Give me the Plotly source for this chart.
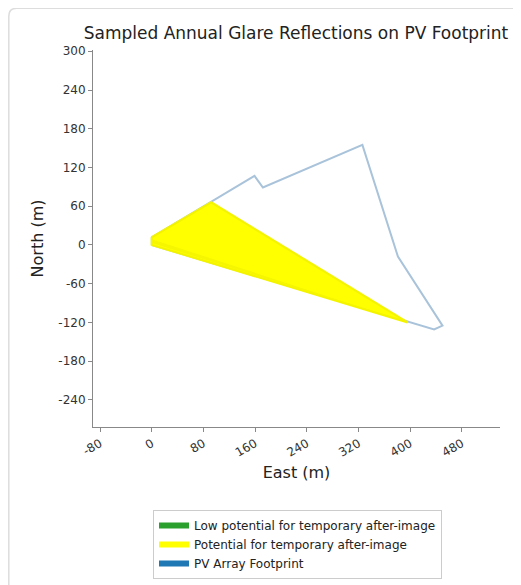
import plotly.graph_objects as go

# PV array footprint outline (East, North in m)
footprint_east = [0, 0, 159, 172, 326, 381, 450, 437, 0]
footprint_north = [0, 12, 107, 89, 155, -18, -125, -131, 0]

# Glare region ("Potential for temporary after-image")
glare_east = [0, 92, 396, 0, 0]
glare_north = [12, 66, -120, 0, 12]
glare_band_east = [0, 396, 0, 0]
glare_band_north = [9, -120, 3, 9]

x_ticks = [-80, 0, 80, 160, 240, 320, 400, 480]
x_labels = ["-80", "0", "80", "160", "240", "320", "400", "480"]
y_ticks = [-240, -180, -120, -60, 0, 60, 120, 180, 240, 300]
y_labels = ["-240", "-180", "-120", "-60", "0", "60", "120", "180", "240", "300"]

legend_names = ["Low potential for temporary after-image",
                "Potential for temporary after-image",
                "PV Array Footprint"]
legend_colors = ["#2ca02c", "#ffff00", "#1f77b4"]

fig = go.Figure()

fig.add_trace(go.Scatter(x=footprint_east, y=footprint_north, mode="lines",
                         line=dict(color="#a9c3da", width=2), showlegend=False,
                         hoverinfo="skip"))
fig.add_trace(go.Scatter(x=glare_east, y=glare_north, fill="toself",
                         mode="lines", line=dict(color="#f4f400", width=2.2),
                         fillcolor="#ffff00", showlegend=False,
                         hoverinfo="skip"))
fig.add_trace(go.Scatter(x=glare_band_east, y=glare_band_north, fill="toself",
                         mode="none", fillcolor="#f6f600", showlegend=False,
                         hoverinfo="skip"))

for name, col in zip(legend_names, legend_colors):
    fig.add_trace(go.Scatter(x=[None], y=[None], fill="toself", mode="none",
                             fillcolor=col, name=name))

# page has an 8px body margin: work in reference pixels minus 8
OFF = 8
W, H = 521 - OFF, 585 - OFF
L, R, T, B = 93 - OFF, 500 - OFF, 50 - OFF, 427 - OFF
pw, ph = R - L, B - T
def px(xp):
    return (xp - OFF - L) / pw
def py(yp):
    return (B - (yp - OFF)) / ph

rx, ry = 8 / pw, 8 / ph
x0, y0 = px(8.8), py(8.3)
x1, y1 = px(560), py(620)
frame = (f"M{x0},{y1} L{x0},{y0 - ry} Q{x0},{y0} {x0 + rx},{y0} L{x1},{y0}")

axis_font = dict(family="DejaVu Sans", size=12, color="#333333")

fig.update_layout(
    width=W, height=H,
    margin=dict(l=L, r=W - R, t=T, b=H - B, autoexpand=False),
    paper_bgcolor="white", plot_bgcolor="white",
    title=dict(text="Sampled Annual Glare Reflections on PV Footprint",
               x=px(296), xref="paper", xanchor="center",
               y=1 - (33 - OFF) / H, yanchor="middle", automargin=False,
               font=dict(family="DejaVu Sans", size=17, color="#222222")),
    xaxis=dict(range=[-91, 539], tickvals=x_ticks, ticktext=x_labels, tickangle=-30,
               showgrid=False, zeroline=False, showline=True, automargin=False,
               linecolor="#888888", linewidth=1, ticks="outside",
               ticklen=4, tickcolor="#888888", tickfont=axis_font,
               title=dict(text="East (m)", standoff=8,
                          font=dict(family="DejaVu Sans", size=16, color="#222222"))),
    yaxis=dict(range=[-282, 302], tickvals=y_ticks, ticktext=y_labels,
               showgrid=False, zeroline=False, showline=True, automargin=False,
               linecolor="#888888", linewidth=1, ticks="outside",
               ticklen=4, tickcolor="#888888", tickfont=axis_font,
               title=dict(text="North (m)", standoff=10,
                          font=dict(family="DejaVu Sans", size=16, color="#222222"))),
    legend=dict(x=px(153), y=py(510), xanchor="left", yanchor="top",
                bordercolor="#cccccc", borderwidth=1, bgcolor="white",
                font=dict(family="DejaVu Sans", size=12, color="#222222"),
                tracegroupgap=0, itemwidth=30),
    shapes=[dict(type="path", path=frame, xref="paper", yref="paper",
                 line=dict(color="#dddddd", width=1.5), layer="below")],
)

fig.write_html("out.html")
